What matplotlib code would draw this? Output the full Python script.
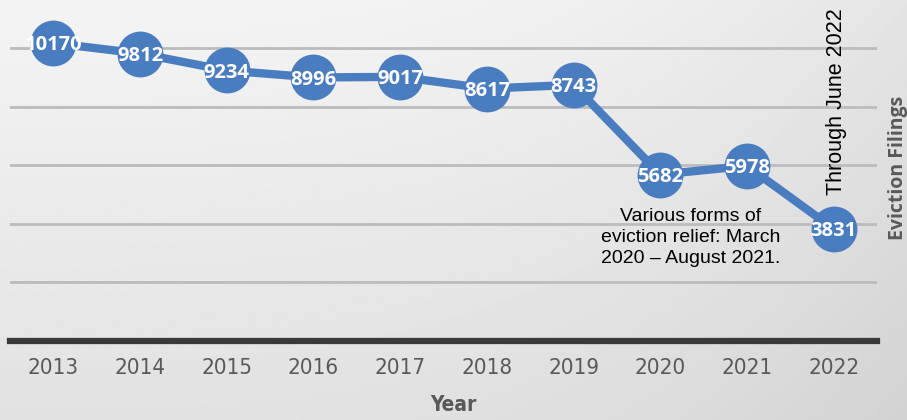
import numpy as np
import matplotlib.pyplot as plt

years = ["2013", "2014", "2015", "2016", "2017", "2018", "2019", "2020", "2021", "2022"]
filings = [10170, 9812, 9234, 8996, 9017, 8617, 8743, 5682, 5978, 3831]
grid_vals = [2000, 4000, 6000, 8000, 10000]

blue = "#4a7cc0"
tick_font = ["DejaVu Sans"]

fig = plt.figure(figsize=(9.07, 4.2), dpi=100)

# gray gradient background
bg = fig.add_axes([0, 0, 1, 1], zorder=-1)
yy, xx = np.mgrid[0:1:200j, 0:1:400j]
shade = 0.955 - 0.07 * yy - 0.06 * xx ** 3
bg.imshow(shade, cmap="gray", vmin=0, vmax=1, aspect="auto", extent=[0, 1, 0, 1], origin="upper")
bg.axis("off")

ax = fig.add_axes([10 / 907, 79 / 420, 867 / 907, 341 / 420])
ax.patch.set_alpha(0)
x = np.arange(len(years))
ax.set_xlim(-0.5, len(years) - 0.5)
ax.set_ylim(0, 11640)

for g in grid_vals:
    ax.axhline(g, color="#bcbcbc", lw=2, zorder=1)
ax.axhline(0, color="#3a3a3a", lw=4.5, zorder=2, clip_on=False)

ax.plot(x, filings, color=blue, lw=6, marker="o", markersize=32,
        markerfacecolor=blue, markeredgecolor=blue, zorder=3)
for xi, v in zip(x, filings):
    ax.text(xi, v - 80, str(v), ha="center", va="center", color="white",
            fontsize=14.5, fontweight="bold", family=["Open Sans", "DejaVu Sans"], zorder=4)

for s in ax.spines.values():
    s.set_visible(False)
ax.set_yticks([])
ax.set_xticks(x)
ax.set_xticklabels(years, family=tick_font, fontstretch="condensed", fontsize=16, color="#595959")
ax.tick_params(axis="x", length=0, pad=12)

fig.text(0.5, 0.036, "Year", ha="center", va="center", fontsize=15, fontweight="bold",
         color="#595959", family=tick_font, fontstretch="condensed")
fig.text(0.99, 0.60, "Eviction Filings", ha="center", va="center", rotation=90, fontsize=14,
         fontweight="bold", color="#595959", family=["Open Sans", "DejaVu Sans"])

ax.text(9.03, 8160, "Through June 2022", rotation=90, ha="center", va="center",
        fontsize=15.5, family=["Liberation Sans", "DejaVu Sans"], color="black")
ax.text(7.35, 3520, "Various forms of\neviction relief: March\n2020 \u2013 August 2021.",
        ha="center", va="center", fontsize=14, linespacing=1.3,
        family=["Liberation Sans", "DejaVu Sans"], color="black")

fig.savefig("out.png", dpi=100)
